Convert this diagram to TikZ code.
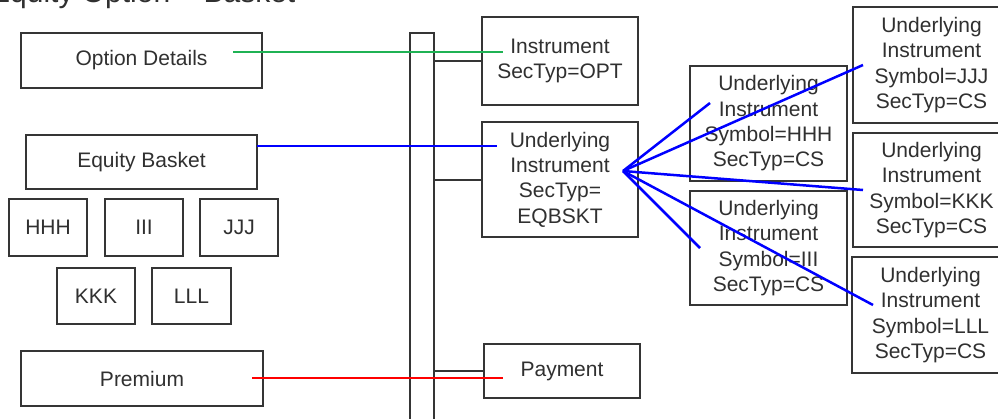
\documentclass[tikz,border=0pt]{standalone}
\usepackage{fontspec}
\setmainfont{Liberation Sans}
\newcommand\boxfont{\fontsize{21}{25.3}\selectfont}
\newcommand\titlefont{\fontsize{30}{34}\selectfont}
\definecolor{boxgray}{HTML}{353535}
\definecolor{txtgray}{HTML}{303030}
\definecolor{linkgreen}{HTML}{1FB254}
\definecolor{linkblue}{HTML}{0000FF}
\definecolor{linkred}{HTML}{FF0000}
\tikzset{
  box/.style={draw=boxgray, line width=2pt, inner sep=0pt, outer sep=0pt,
    align=center, text=txtgray, font=\boxfont, anchor=north west},
  stub/.style={draw=boxgray, line width=2pt},
  link/.style={line width=2.2pt},
  fan/.style={draw=linkblue, line width=2.5pt}
}
\begin{document}
\begin{tikzpicture}[x=1pt,y=-1pt]
\useasboundingbox (0,0) rectangle (998,418);
\fill[white] (0,0) rectangle (998,418);
\clip (0,0) rectangle (998,418);

% heading (only its lower edge falls inside the frame)
\node[anchor=base west, inner sep=0pt, text=txtgray, font=\titlefont] (title) at (-10,2.5) {Equity Option – Basket};

% left column
\node[box, minimum width=241, minimum height=55] (opt)  at (21,33)  {Option Details};
\node[box, minimum width=231, minimum height=54] (eqb)  at (26,135) {Equity Basket};
\node[box, minimum width=78,  minimum height=57] (hhh)  at (9,199)   {HHH};
\node[box, minimum width=78,  minimum height=57] (iii)  at (105,199) {III};
\node[box, minimum width=78,  minimum height=57] (jjj)  at (200,199) {JJJ};
\node[box, minimum width=78,  minimum height=56] (kkk)  at (57,268)  {KKK};
\node[box, minimum width=79,  minimum height=56] (lll)  at (152,268) {LLL};
\node[box, minimum width=242, minimum height=55] (prem) at (21,351)  {Premium};

% message bar
\node[box, minimum width=24, minimum height=400] (bar) at (410,33) {};

% components on the bar
\node[box, minimum width=156, minimum height=88]  (instr) at (482,17)  {Instrument\\SecTyp=OPT};
\node[box, minimum width=156, minimum height=115] (und)   at (482,122) {Underlying\\Instrument\\SecTyp=\\EQBSKT};
\node[box, minimum width=156, minimum height=54]  (pay)   at (484,344) {Payment};

% basket constituents
\node[box, minimum width=157, minimum height=115] (uh) at (690,66)  {Underlying\\Instrument\\Symbol=HHH\\SecTyp=CS};
\node[box, minimum width=157, minimum height=114] (ui) at (690,191) {Underlying\\Instrument\\Symbol=III\\SecTyp=CS};
\node[box, minimum width=157, minimum height=116] (uj) at (853,7)   {Underlying\\Instrument\\Symbol=JJJ\\SecTyp=CS};
\node[box, minimum width=157, minimum height=114] (uk) at (853,133) {Underlying\\Instrument\\Symbol=KKK\\SecTyp=CS};
\node[box, minimum width=157, minimum height=116] (ul) at (852,257) {Underlying\\Instrument\\Symbol=LLL\\SecTyp=CS};

% stubs from the bar
\draw[stub] (bar.east |- instr.west) -- (instr.west);
\draw[stub] (bar.east |- und.west) -- (und.west);
\draw[stub] (bar.east |- pay.west) -- (pay.west);

% mapping links
\coordinate (gA) at (233,52);  \coordinate (gB) at (503,52);
\coordinate (bA) at (257,146); \coordinate (bB) at (497,146);
\coordinate (rA) at (252,378); \coordinate (rB) at (503,378);
\draw[link, linkgreen] (gA) -- (gB);
\draw[link, linkblue]  (bA) -- (bB);
\draw[link, linkred]   (rA) -- (rB);

% fan from the basket to its constituents
\coordinate (hub) at (623,171);
\coordinate (th) at (710,103);
\coordinate (tj) at (863,65);
\coordinate (tk) at (863,190);
\coordinate (ti) at (700,248);
\coordinate (tl) at (873,305);
\foreach \t in {th,tj,tk,ti,tl} \draw[fan] (hub) -- (\t);
\end{tikzpicture}
\end{document}
